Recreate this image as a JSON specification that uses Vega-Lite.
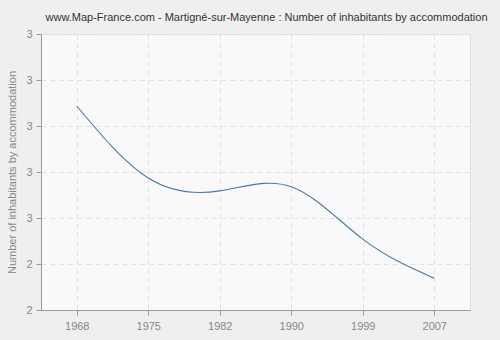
{
  "$schema": "https://vega.github.io/schema/vega-lite/v6.json",
  "width": 429,
  "height": 276,
  "autosize": {"type": "none"},
  "padding": {"left": 41, "top": 34, "right": 30, "bottom": 30},
  "background": "#efefef",
  "title": {
    "text": "www.Map-France.com - Martigné-sur-Mayenne : Number of inhabitants by accommodation",
    "font": "Liberation Sans",
    "fontSize": 11,
    "fontWeight": "normal",
    "color": "#333333",
    "anchor": "middle",
    "dx": 11,
    "dy": 7,
    "offset": 12
  },
  "data": {
    "values": [
      {"year": "1968", "value": 2.8435},
      {"year": "1975", "value": 2.687},
      {"year": "1982", "value": 2.659},
      {"year": "1990", "value": 2.668},
      {"year": "1999", "value": 2.554},
      {"year": "2007", "value": 2.469}
    ]
  },
  "mark": {"type": "line", "interpolate": "natural", "color": "#4a77b0", "strokeWidth": 1.1},
  "encoding": {
    "x": {
      "field": "year",
      "type": "ordinal",
      "scale": {"type": "point", "padding": 0.5},
      "axis": {
        "title": null,
        "labelAngle": 0,
        "labelFont": "Liberation Sans",
        "labelFontSize": 11,
        "labelColor": "#888888",
        "labelPadding": 5,
        "domainColor": "#999999",
        "tickColor": "#999999",
        "tickSize": 5,
        "grid": true,
        "gridColor": "#e2e2e2",
        "gridDash": [5, 4]
      }
    },
    "y": {
      "field": "value",
      "type": "quantitative",
      "scale": {"domain": [2.4, 3.0], "nice": false, "zero": false},
      "axis": {
        "title": "Number of inhabitants by accommodation",
        "titleFont": "Liberation Sans",
        "titleFontSize": 11,
        "titleFontWeight": "normal",
        "titleColor": "#888888",
        "titlePadding": 8,
        "values": [2.4, 2.5, 2.6, 2.7, 2.8, 2.9, 3.0],
        "labelExpr": "toString(round(datum.value - 0.001))",
        "labelFont": "Liberation Sans",
        "labelFontSize": 11,
        "labelColor": "#888888",
        "labelPadding": 4,
        "domainColor": "#999999",
        "tickColor": "#999999",
        "tickSize": 5,
        "grid": true,
        "gridColor": "#e2e2e2",
        "gridDash": [5, 4]
      }
    }
  },
  "config": {
    "view": {"fill": "#f9f9f9", "stroke": "#dddddd"}
  }
}
